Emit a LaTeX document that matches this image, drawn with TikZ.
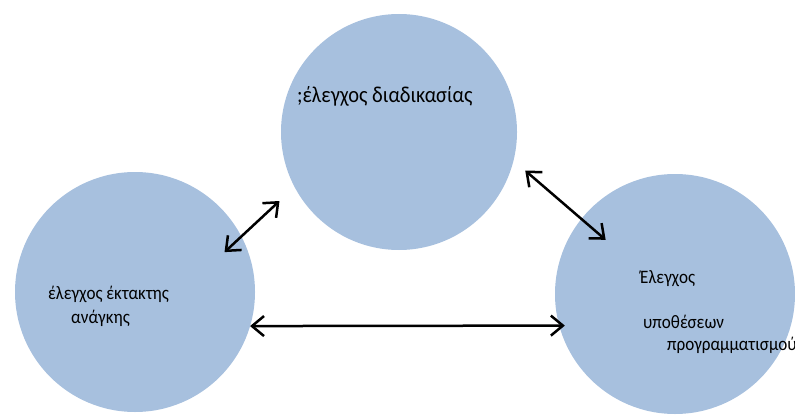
\documentclass[tikz,border=0pt]{standalone}
\usepackage{fontspec}
\setmainfont{Carlito}[FakeStretch=0.9]
\usetikzlibrary{arrows.meta,calc}
\definecolor{circblue}{RGB}{167,192,222}

\begin{document}
\begin{tikzpicture}[x=1pt,y=1pt,
  bubble/.style={circle,fill=circblue,draw=none,minimum size=240pt,inner sep=0pt},
  lbl/.style={anchor=base west,inner sep=0pt,font=\fontsize{19}{22}\selectfont},
  biarrow/.style={{Straight Barb[length=12pt,width=20pt]}-{Straight Barb[length=12pt,width=20pt]},line width=2.5pt}]
\useasboundingbox (0,0) rectangle (795,416);

\node[bubble] (emerg) at (135,124) {};
\node[bubble,minimum size=236pt] (proc) at (399,284) {};
\node[bubble] (sched) at (675,122) {};

\node[lbl,font=\fontsize{22.7}{26}\selectfont] (procA) at (297,313) {;έλεγχος διαδικασίας};
\node[lbl] (emergA) at (48,117) {έλεγχος έκτακτης};
\node[lbl] (emergB) at (71,93) {ανάγκης};
\node[lbl] (schedA) at (640,133) {Έλεγχος};
\node[lbl] (schedB) at (643,88) {υποθέσεων};
\node[lbl] (schedC) at (667,66) {προγραμματισμού};

\draw[biarrow] ([shift={(24:98)}]emerg.center) -- ([shift={(210:138)}]proc.center);
\draw[biarrow] ([shift={(-17:132)}]proc.center) -- ([shift={(142:88)}]sched.center);
\draw[biarrow] ([shift={(-16.5:120)}]emerg.center) -- ([shift={(196:114.6)}]sched.center);

\end{tikzpicture}
\end{document}
